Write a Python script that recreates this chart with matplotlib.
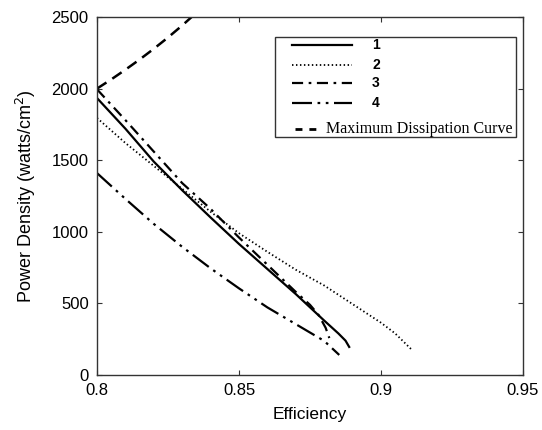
import matplotlib
matplotlib.use("Agg")
import matplotlib.pyplot as plt
from matplotlib.lines import Line2D
from matplotlib.patches import Rectangle

plt.rcParams['font.family'] = ['Liberation Sans', 'DejaVu Sans']

# ---- data ----
eff1 = [0.800, 0.810, 0.820, 0.830, 0.840, 0.850, 0.860, 0.870, 0.880, 0.885, 0.8875, 0.8888]
pd1 = [1934, 1720, 1490, 1290, 1100, 915, 740, 565, 380, 290, 240, 196]

eff2 = [0.800, 0.810, 0.820, 0.830, 0.840, 0.850, 0.860, 0.870, 0.880, 0.890, 0.900, 0.905, 0.9109]
pd2 = [1795, 1620, 1460, 1300, 1140, 990, 860, 735, 625, 495, 365, 290, 175]

eff3 = [0.800, 0.810, 0.820, 0.830, 0.840, 0.850, 0.860, 0.870, 0.875, 0.878, 0.8805, 0.8818]
pd3 = [1995, 1780, 1560, 1340, 1160, 960, 770, 580, 490, 420, 330, 258]

eff4 = [0.800, 0.810, 0.820, 0.830, 0.840, 0.850, 0.860, 0.870, 0.880, 0.8853]
pd4 = [1410, 1230, 1055, 895, 745, 605, 472, 355, 238, 140]

eff_max = [0.800, 0.805, 0.810, 0.815, 0.820, 0.825, 0.830, 0.835]
pd_max = [2000, 2064, 2132, 2203, 2278, 2357, 2441, 2530]

labels = ['1', '2', '3', '4']
max_label = 'Maximum Dissipation Curve'
xticks = [0.8, 0.85, 0.9, 0.95]
xticklabels = ['0.8', '0.85', '0.9', '0.95']
yticks = [0, 500, 1000, 1500, 2000, 2500]

# ---- styles ----
styles = [
    dict(color='black', lw=1.6, linestyle='-'),
    dict(color='black', lw=1.3, linestyle=(0, (0.8, 1.4))),
    dict(color='black', lw=1.6, linestyle=(0, (5, 2.5, 1.2, 2.5))),
    dict(color='black', lw=1.6, linestyle=(0, (9, 2.5, 1.2, 2.5, 1.2, 2.5))),
]
max_style = dict(color='black', lw=1.8, linestyle=(0, (4.5, 2.8)))

fig = plt.figure(figsize=(5.42, 4.30), dpi=100)
ax = fig.add_axes([97/542, 1-375/430, 426/542, 358/430])

series = [(eff1, pd1), (eff2, pd2), (eff3, pd3), (eff4, pd4)]
for (x, y), st in zip(series, styles):
    ax.plot(x, y, **st)
ax.plot(eff_max, pd_max, **max_style)

ax.set_xlim(0.8, 0.95)
ax.set_ylim(0, 2500)
ax.set_xticks(xticks)
ax.set_xticklabels(xticklabels)
ax.set_yticks(yticks)
ax.tick_params(direction='in', length=3.5, width=0.8, top=True, right=True,
               labelsize=12, colors='#333333', labelcolor='black')
ax.tick_params(axis='x', pad=6)
ax.tick_params(axis='y', pad=6)
for sp in ax.spines.values():
    sp.set_color('#333333')
    sp.set_linewidth(1.0)

ax.set_xlabel('Efficiency', fontsize=12.5, labelpad=6)
ax.set_ylabel('Power Density (watts/cm$^2$)', fontsize=13, labelpad=10)

# ---- legend box (drawn in axes fraction coordinates) ----
T = ax.transAxes
ax.add_patch(Rectangle((0.418, 0.665), 0.566, 0.279, transform=T,
                       facecolor='white', edgecolor='#333333', lw=1.0, zorder=5))
rows = [0.922, 0.866, 0.816, 0.760]
for yy, st, lab in zip(rows, styles, labels):
    ax.add_line(Line2D([0.458, 0.599], [yy, yy], transform=T, zorder=6, **st))
    ax.text(0.646, yy, lab, transform=T, fontsize=10, fontweight='bold',
            va='center', ha='left', zorder=6)
ax.add_line(Line2D([0.465, 0.516], [0.687, 0.687], transform=T, zorder=6,
                   color='black', lw=2.0, linestyle=(0, (2.5, 2.5))))
ax.text(0.538, 0.687, max_label, transform=T, fontsize=11.5,
        family=['Liberation Serif', 'DejaVu Serif'], va='center', ha='left', zorder=6)

fig.savefig('out.png', dpi=100)
